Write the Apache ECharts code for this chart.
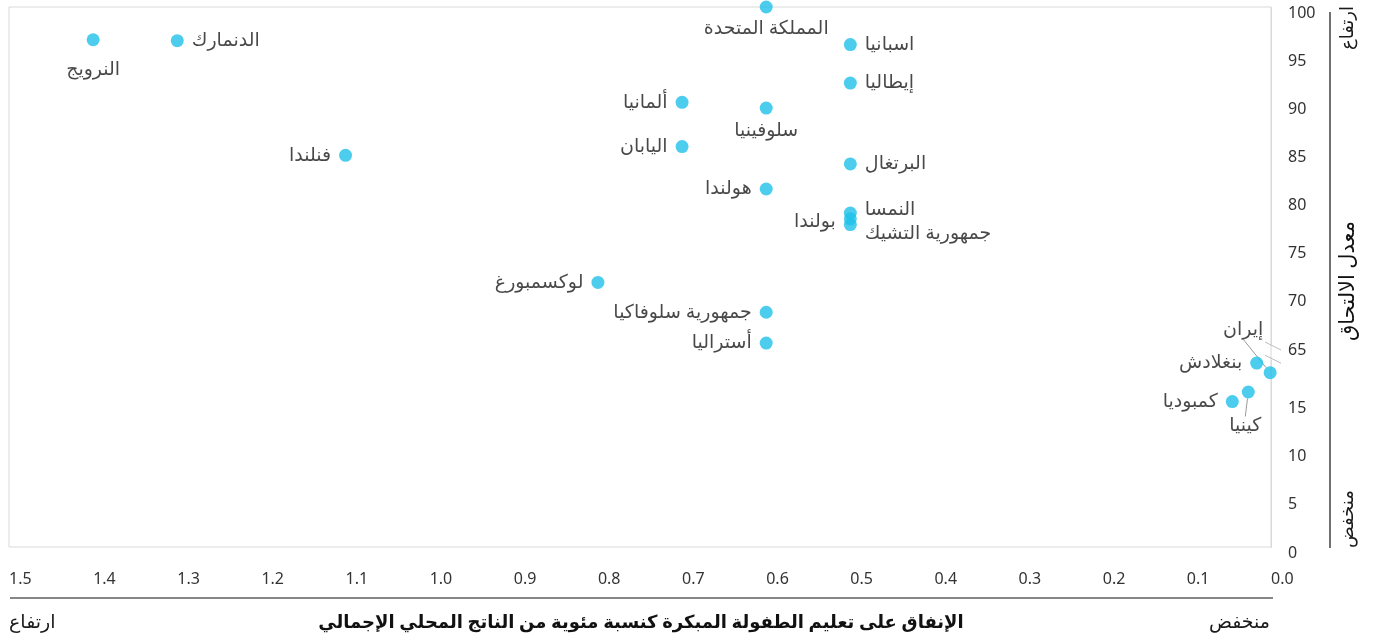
<!DOCTYPE html>
<html>
<head>
<meta charset="utf-8">
<script src="https://cdn.jsdelivr.net/npm/echarts@6/dist/echarts.min.js"></script>
<style>
    html, body { margin: 0; padding: 0; background: #fff; }
    #chart { width: 1375px; height: 640px; }
</style>
</head>
<body>
<div id="chart"></div>
<script>
// spending on early childhood education (% of GDP) vs enrolment rate
const countries = ['النرويج', 'الدنمارك', 'المملكة المتحدة', 'اسبانيا', 'إيطاليا', 'ألمانيا', 'سلوفينيا', 'اليابان', 'فنلندا', 'البرتغال', 'هولندا', 'النمسا', 'بولندا', 'جمهورية التشيك', 'لوكسمبورغ', 'جمهورية سلوفاكيا', 'أستراليا', 'إيران', 'بنغلادش', 'كينيا', 'كمبوديا'];
const spending = [1.40, 1.30, 0.60, 0.50, 0.50, 0.70, 0.60, 0.70, 1.10, 0.50, 0.60, 0.50, 0.50, 0.50, 0.80, 0.60, 0.60, 0.001, 0.017, 0.027, 0.046];
const enrolment = [96.6, 96.5, 100, 96.1, 92.1, 90.1, 89.5, 85.5, 84.6, 83.7, 81.1, 78.6, 78.0, 77.4, 71.4, 68.3, 65.1, 18.1, 19.1, 16.1, 15.1];

const xTicks = ['1.5', '1.4', '1.3', '1.2', '1.1', '1.0', '0.9', '0.8', '0.7', '0.6', '0.5', '0.4', '0.3', '0.2', '0.1', '0.0'];
const yBreak = { start: 19.4, end: 65 };

const xTitle = 'الإنفاق على تعليم الطفولة المبكرة كنسبة مئوية من الناتج المحلي الإجمالي';
const yTitle = 'معدل الالتحاق';
const lowText = 'منخفض';
const highText = 'ارتفاع';

// which side of the dot each label sits on
const labelSide = {
    'النرويج': 'bottom', 'الدنمارك': 'right', 'المملكة المتحدة': 'bottom', 'اسبانيا': 'right',
    'إيطاليا': 'right', 'ألمانيا': 'left', 'سلوفينيا': 'bottom', 'اليابان': 'left', 'فنلندا': 'left',
    'البرتغال': 'right', 'هولندا': 'left', 'النمسا': 'right', 'بولندا': 'left', 'جمهورية التشيك': 'right',
    'لوكسمبورغ': 'left', 'جمهورية سلوفاكيا': 'left', 'أستراليا': 'left', 'إيران': 'top',
    'بنغلادش': 'left', 'كينيا': 'bottom', 'كمبوديا': 'left'
};
// small label shifts (dx, dy) so crowded labels don't collide
const labelMove = {
    'النرويج': [0, 8], 'النمسا': [0, -3], 'بولندا': [0, 3], 'جمهورية التشيك': [0, 9],
    'إيران': [-27, -19], 'كينيا': [-3, 12]
};
const withLeader = ['إيران', 'كينيا'];

const FONT = "'Noto Sans', 'DejaVu Sans', sans-serif";
const DOT = '#1fc0ea';

const chart = echarts.init(document.getElementById('chart'));

const points = countries.map((name, i) => {
    const side = labelSide[name];
    const item = {
        name: name,
        value: [spending[i], enrolment[i]],
        label: { position: side, distance: side === 'bottom' ? 6 : 8 }
    };
    if (withLeader.includes(name)) {
        item.labelLine = { show: true, length2: 0, lineStyle: { color: '#999', width: 1 } };
    }
    return item;
});

chart.setOption({
    animation: false,
    textStyle: { fontFamily: FONT },
    grid: { left: 9, right: 104, top: 7, bottom: 93, show: true, borderColor: '#d9d9d9', borderWidth: 1 },
    xAxis: {
        type: 'value', inverse: true, min: 0, max: 1.5, interval: 0.1,
        axisLine: { show: false }, axisTick: { show: false }, splitLine: { show: false },
        axisLabel: {
            align: 'left', margin: 24, fontSize: 16, color: '#333', fontFamily: FONT,
            formatter: v => xTicks[15 - Math.round(v * 10)]
        }
    },
    yAxis: {
        type: 'value', position: 'right', min: 0, max: 100, interval: 5,
        breaks: [{ start: yBreak.start, end: yBreak.end, gap: '3%' }],
        breakArea: { show: false },
        axisLine: { show: true, lineStyle: { color: '#d9d9d9' } },
        axisTick: { show: false }, splitLine: { show: false },
        axisLabel: {
            margin: 17, fontSize: 16, color: '#333', fontFamily: FONT,
            verticalAlign: 'top', lineHeight: 12,
            formatter: v => (Math.abs(v % 5) < 1e-6 ? String(v) : '')
        }
    },
    series: [{
        type: 'scatter',
        symbolSize: 13,
        itemStyle: { color: DOT },
        label: { show: true, formatter: '{b}', fontSize: 19, color: '#1a1a1a', fontFamily: FONT },
        labelLayout: function (p) {
            const mv = labelMove[countries[p.dataIndex]];
            return mv ? { dx: mv[0], dy: mv[1] } : {};
        },
        data: points
    }]
});

// decorations: break marks, bottom/right rules, axis titles
const axisX = chart.convertToPixel({ xAxisIndex: 0 }, 0);
const yLow = chart.convertToPixel({ yAxisIndex: 0 }, yBreak.start);
const yHigh = chart.convertToPixel({ yAxisIndex: 0 }, yBreak.end);

function slash(y) {
    return { type: 'line', shape: { x1: axisX - 6, y1: y - 4, x2: axisX + 10, y2: y + 4 }, style: { stroke: '#bbb', lineWidth: 1 } };
}

chart.setOption({
    graphic: [
        slash(yHigh + 2),
        slash(yLow - 1),
        { type: 'line', shape: { x1: 10, y1: 598, x2: 1273, y2: 598 }, style: { stroke: '#111', lineWidth: 1.2 } },
        { type: 'line', shape: { x1: 1330, y1: 12, x2: 1330, y2: 548 }, style: { stroke: '#111', lineWidth: 1.2 } },
        { type: 'text', x: 641, y: 623, style: { text: xTitle, font: '600 18px ' + FONT, fill: '#111', align: 'center', verticalAlign: 'middle' } },
        { type: 'text', x: 1270, y: 623, style: { text: lowText, font: '19px ' + FONT, fill: '#1a1a1a', align: 'right', verticalAlign: 'middle' } },
        { type: 'text', x: 9, y: 623, style: { text: highText, font: '19px ' + FONT, fill: '#1a1a1a', align: 'left', verticalAlign: 'middle' } },
        { type: 'text', x: 1348, y: 281, rotation: Math.PI / 2, style: { text: yTitle, font: '21px ' + FONT, fill: '#111', align: 'center', verticalAlign: 'middle' } },
        { type: 'text', x: 1348, y: 6, rotation: Math.PI / 2, style: { text: highText, font: '18px ' + FONT, fill: '#1a1a1a', align: 'right', verticalAlign: 'middle' } },
        { type: 'text', x: 1348, y: 548, rotation: Math.PI / 2, style: { text: lowText, font: '18px ' + FONT, fill: '#1a1a1a', align: 'left', verticalAlign: 'middle' } }
    ]
});
</script>
</body>
</html>
